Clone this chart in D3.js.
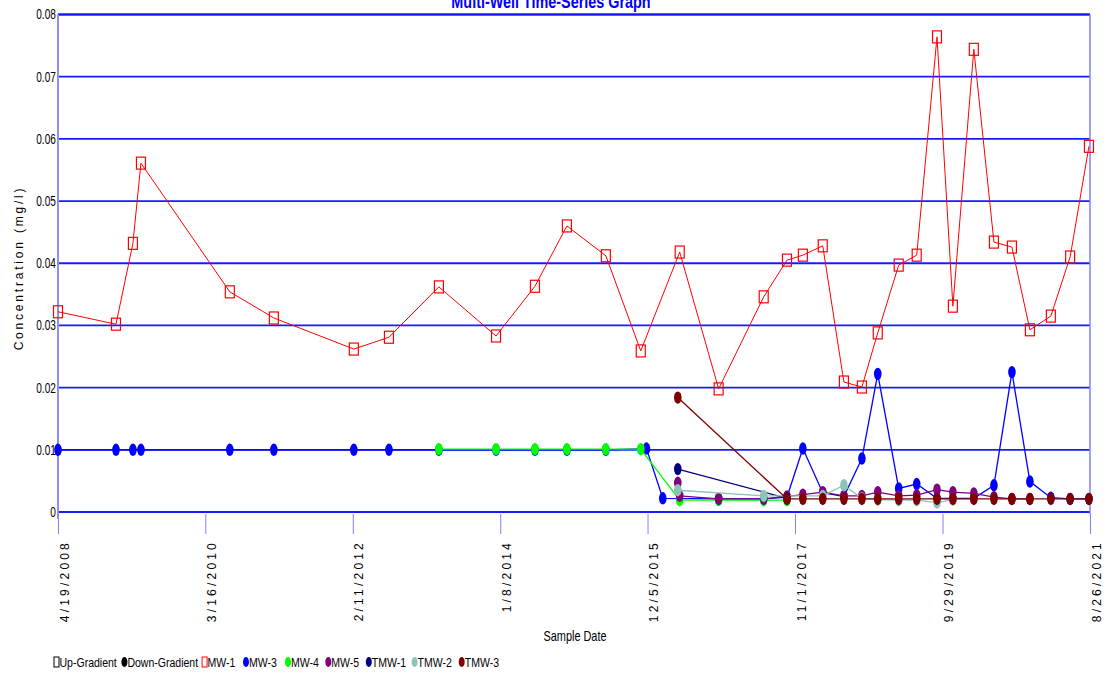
<!DOCTYPE html>
<html>
<head>
<meta charset="utf-8">
<script src="https://cdn.jsdelivr.net/npm/d3@7"></script>
<style>
  html, body { margin: 0; padding: 0; background: #fff; }
  svg { display: block; }
</style>
</head>
<body>
<svg id="chart" width="1107" height="676"></svg>
<script>
// ---------------- DATA ----------------
const sampleDates = [
  "2008-04-19","2009-01-18","2009-04-08","2009-05-16","2010-07-10","2011-02-03",
  "2012-02-16","2012-07-31","2013-03-24","2013-12-19","2014-06-21","2014-11-19",
  "2015-05-22","2015-11-03","2015-11-30","2016-02-15","2016-04-26","2016-05-05",
  "2016-11-05","2017-06-06","2017-09-24","2017-12-08","2018-03-12","2018-06-20",
  "2018-09-13","2018-11-27","2019-03-06","2019-05-30","2019-09-03","2019-11-17",
  "2020-02-24","2020-05-29","2020-08-22","2020-11-15","2021-02-22","2021-05-24",
  "2021-08-21"
];
const mw1 = [
  0.0322,0.0302,0.0432,0.0561,0.0354,0.0312,
  0.0262,0.0281,0.0362,0.0283,0.0363,0.0460,
  0.0412,0.0259,null,null,null,0.0418,
  0.0198,0.0346,0.0405,0.0413,0.0428,0.0209,
  0.0201,0.0288,0.0397,0.0413,0.0764,0.0331,
  0.0744,0.0434,0.0426,0.0293,0.0315,0.0410,
  0.0588
];
const mw3 = [
  0.0100,0.0100,0.0100,0.0100,0.0100,0.0100,
  0.0100,0.0100,0.0100,0.0100,0.0100,0.0100,
  0.0100,null,0.0102,0.0022,null,null,
  0.0021,0.0021,0.0024,0.0102,0.0031,0.0025,
  0.0086,0.0222,0.0038,0.0045,0.0022,0.0022,
  0.0022,0.0043,0.0225,0.0049,0.0023,0.0021,
  0.0021
];
const mw4 = [
  null,null,null,null,null,null,
  null,null,0.0101,0.0101,0.0101,0.0101,
  0.0101,0.0101,null,null,null,0.0019,
  0.0019,0.0019,0.0019,null,null,null,
  null,null,null,null,null,null,
  null,null,null,null,null,null,
  null
];
const mw5 = [
  null,null,null,null,null,null,
  null,null,null,null,null,null,
  null,null,null,null,0.0047,0.0026,
  0.0021,0.0021,0.0025,0.0028,0.0032,0.0026,
  0.0026,0.0032,0.0026,0.0027,0.0036,0.0032,
  0.0030,0.0024,0.0021,0.0021,null,null,
  null
];
const tmw1 = [
  null,null,null,null,null,null,
  null,null,null,null,null,null,
  null,null,null,null,0.0069,null,
  null,null,0.0022,null,null,null,
  null,null,null,null,null,null,
  null,null,null,null,null,null,
  null
];
const tmw2 = [
  null,null,null,null,null,null,
  null,null,null,null,null,null,
  null,null,null,null,0.0035,null,
  null,0.0026,null,null,0.0026,0.0043,
  0.0022,0.0020,0.0019,0.0019,0.0015,0.0020,
  null,null,null,null,null,null,
  null
];
const tmw3 = [
  null,null,null,null,null,null,
  null,null,null,null,null,null,
  null,null,null,null,0.0184,null,
  null,null,0.0021,0.0021,0.0021,0.0021,
  0.0021,0.0021,0.0021,0.0021,0.0021,0.0021,
  0.0021,0.0021,0.0021,0.0021,0.0021,0.0021,
  0.0021
];
const seriesNames = ["MW-1","MW-3","MW-4","MW-5","TMW-1","TMW-2","TMW-3"];
const seriesValues = [mw1, mw3, mw4, mw5, tmw1, tmw2, tmw3];
const xTickLabels = ["4/19/2008","3/16/2010","2/11/2012","1/8/2014","12/5/2015","11/1/2017","9/29/2019","8/26/2021"];
const yTickValues = [0, 0.01, 0.02, 0.03, 0.04, 0.05, 0.06, 0.07, 0.08];
const legendLabels = ["Up-Gradient","Down-Gradient","MW-1","MW-3","MW-4","MW-5","TMW-1","TMW-2","TMW-3"];

// ---------------- STYLE ----------------
const seriesColors = {
  "MW-1": "#ff0000", "MW-3": "#0000ff", "MW-4": "#00ff00", "MW-5": "#800080",
  "TMW-1": "#000080", "TMW-2": "#8cc4b8", "TMW-3": "#800000"
};
const SANS = "'Liberation Sans',Arial,sans-serif";
const SQUEEZE = 0.78;   // the reference's text is horizontally condensed

// ---------------- CHART ----------------
const svg = d3.select("#chart");
const parse = d3.timeParse("%Y-%m-%d");
const parseTick = d3.timeParse("%m/%d/%Y");
const pLeft = 58, pRight = 1090, pTop = 14.5, pBottom = 512;

const x = d3.scaleTime()
  .domain([parseTick(xTickLabels[0]), parseTick(xTickLabels[xTickLabels.length - 1])])
  .range([pLeft, pRight]);
const y = d3.scaleLinear().domain([0, 0.08]).range([pBottom, pTop]);

function condensedText(parent, tx, ty, str, opts) {
  const g = parent.append("g").attr("transform", `translate(${tx},${ty}) scale(${opts.squeeze || SQUEEZE},1)`);
  return g.append("text")
    .attr("text-anchor", opts.anchor || "start")
    .style("font-family", SANS)
    .style("font-size", opts.size + "px")
    .style("font-weight", opts.weight || "normal")
    .attr("fill", opts.fill || "#000")
    .text(str);
}

// Title (partly cut off at the top, as in the reference)
condensedText(svg, 551, 8, "Multi-Well Time-Series Graph",
  { anchor: "middle", size: 18, weight: "bold", fill: "#0000ff", squeeze: 0.8 });

// Horizontal grid lines
svg.append("g").selectAll("line").data(yTickValues).join("line")
  .attr("x1", pLeft).attr("x2", pRight)
  .attr("y1", d => y(d)).attr("y2", d => y(d))
  .attr("stroke", "#1a1aff")
  .attr("stroke-width", d => d === 0.08 ? 2.5 : 1.8);

// right border
svg.append("line")
  .attr("x1", pRight).attr("x2", pRight).attr("y1", pTop).attr("y2", pBottom + 2)
  .attr("stroke", "#8080ff").attr("stroke-width", 1.5);

// Y axis
const yAxis = svg.append("g").attr("transform", `translate(${pLeft},0)`)
  .call(d3.axisLeft(y).tickValues(yTickValues).tickSize(0).tickPadding(3)
    .tickFormat(d => d === 0 ? "0" : d3.format(".2f")(d)));
yAxis.select(".domain").remove();
yAxis.selectAll("text")
  .style("font-family", SANS).style("font-size", "14px").attr("fill", "#000")
  .attr("transform", "scale(0.72,1)");
svg.append("line")
  .attr("x1", pLeft).attr("x2", pLeft).attr("y1", pTop).attr("y2", pBottom + 7)
  .attr("stroke", "#8c8cff").attr("stroke-width", 2);

// X axis
const xTickDates = xTickLabels.map(parseTick);
const xAxis = svg.append("g").attr("transform", `translate(0,${pBottom + 2})`)
  .call(d3.axisBottom(x).tickValues(xTickDates).tickSize(20)
    .tickFormat((d, i) => xTickLabels[i]));
xAxis.select(".domain").remove();
xAxis.selectAll(".tick line").attr("stroke", "#8080ff").attr("stroke-width", 1);
xAxis.selectAll(".tick text")
  .attr("transform", "rotate(-90)")
  .attr("text-anchor", "end")
  .attr("x", -26).attr("y", 10).attr("dy", 0)
  .style("font-family", SANS).style("font-size", "12px").style("letter-spacing", "3.2px")
  .attr("fill", "#000");

// Axis titles
svg.append("text")
  .attr("transform", "translate(23,268) rotate(-90)")
  .attr("text-anchor", "middle")
  .style("font-family", SANS).style("font-size", "12px").style("letter-spacing", "2.8px")
  .attr("fill", "#000")
  .text("Concentration (mg/l)");
condensedText(svg, 575, 641, "Sample Date", { anchor: "middle", size: 14 });

// Series
const line = d3.line()
  .defined(d => d.v !== null)
  .x(d => x(d.date)).y(d => y(d.v));

seriesNames.forEach((name, si) => {
  const pts = sampleDates.map((s, i) => ({ date: parse(s), v: seriesValues[si][i] }))
    .filter(d => d.v !== null);
  const col = seriesColors[name];
  const g = svg.append("g");
  g.append("path").datum(pts)
    .attr("d", line)
    .attr("fill", "none").attr("stroke", col)
    .attr("stroke-width", name === "MW-1" ? 1 : 1.3);
  if (name === "MW-1") {
    g.selectAll("rect").data(pts).join("rect")
      .attr("x", d => x(d.date) - 4.5).attr("y", d => y(d.v) - 6)
      .attr("width", 9).attr("height", 12)
      .attr("fill", "none").attr("stroke", col).attr("stroke-width", 1.2);
  } else {
    g.selectAll("ellipse").data(pts).join("ellipse")
      .attr("cx", d => x(d.date)).attr("cy", d => y(d.v))
      .attr("rx", 3.8).attr("ry", 6.2)
      .attr("fill", col);
  }
});

// Legend
const legendColors = ["#000", "#000"].concat(seriesNames.map(n => seriesColors[n]));
const legendX = [56.5, 124.4, 204.6, 246, 288, 328.3, 368.8, 414.6, 461.7];
const ly = 662;
const lg = svg.append("g");
legendLabels.forEach((lab, i) => {
  const cx = legendX[i];
  const square = (lab === "Up-Gradient" || lab === "MW-1");
  if (square) {
    lg.append("rect").attr("x", cx - 2.5).attr("y", ly - 5).attr("width", 5).attr("height", 10)
      .attr("fill", "none").attr("stroke", legendColors[i]).attr("stroke-width", 1);
  } else {
    lg.append("ellipse").attr("cx", cx).attr("cy", ly).attr("rx", 3).attr("ry", 5)
      .attr("fill", legendColors[i]);
  }
  condensedText(lg, cx + 3, ly + 5, lab, { size: 13.5 });
});
</script>
</body>
</html>
